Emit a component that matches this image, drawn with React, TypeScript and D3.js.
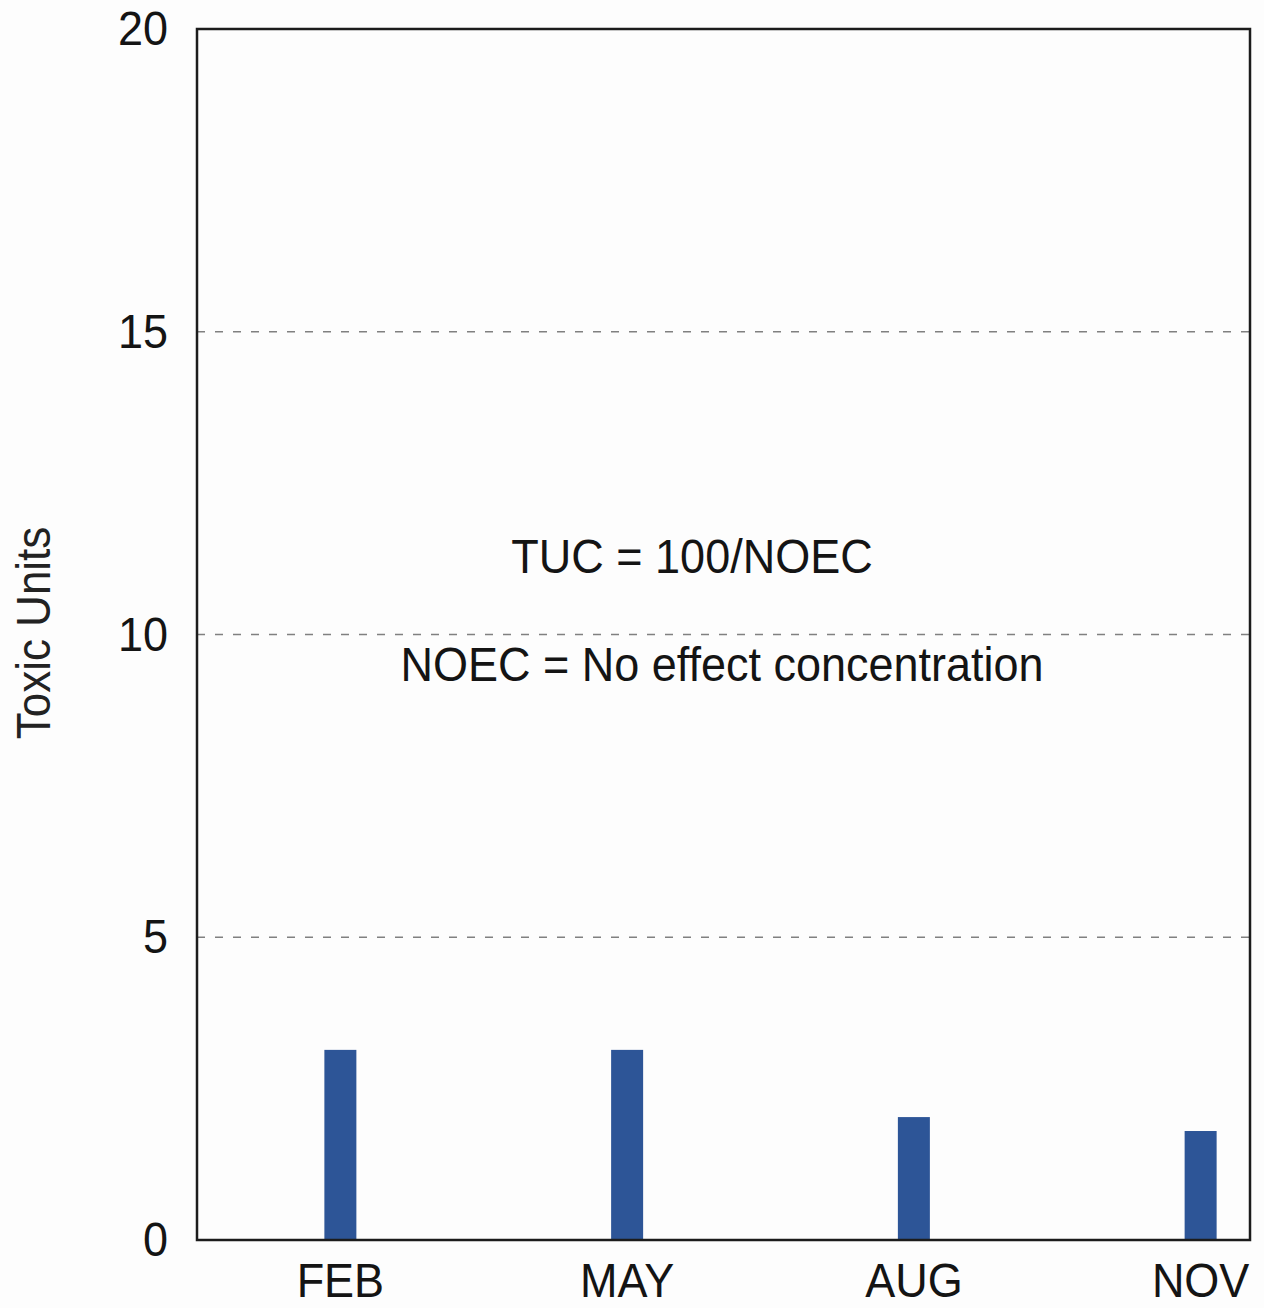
import React from "react";
import * as d3 from "d3";

const months = ["FEB", "MAY", "AUG", "NOV"];
const toxicUnits = [3.14, 3.14, 2.03, 1.8];
const yTicks = [0, 5, 10, 15, 20];
const gridValues = [5, 10, 15];
const notes = ["TUC = 100/NOEC", "NOEC = No effect concentration"];

const W = 1264;
const H = 1308;
const left = 197;
const right = 1250;
const top = 29;
const bottom = 1240;
const font = "'Liberation Sans', Arial, sans-serif";
const sy = 1.08;

export default function App() {
  const y = d3.scaleLinear().domain([0, 20]).range([bottom, top]);
  const x = d3.scalePoint<string>().domain(months).range([left, 1344]).padding(0.5);
  const barW = 32;

  return (
    <svg width={W} height={H} style={{ position: "absolute", left: 0, top: 0, background: "#fdfdfd" }}>
      <rect x={0} y={0} width={W} height={H} fill="#fdfdfd" />
      {gridValues.map((v) => (
        <line key={v} x1={left} x2={right} y1={y(v)} y2={y(v)} stroke="#808080" strokeWidth={1.5} strokeDasharray="8,10" />
      ))}
      {months.map((m, i) => (
        <rect key={m} x={(x(m) as number) - barW / 2} y={y(toxicUnits[i])} width={barW} height={y(0) - y(toxicUnits[i])} fill="#2d5597" />
      ))}
      <rect x={left} y={top} width={right - left} height={bottom - top} fill="none" stroke="#1c1c1c" strokeWidth={2.5} />
      {yTicks.map((t) => (
        <text key={t} transform={`translate(168,${y(t) + 16}) scale(1,${sy})`} textAnchor="end" fontFamily={font} fontSize={45} fill="#141414">
          {t}
        </text>
      ))}
      {months.map((m) => (
        <text key={m} transform={`translate(${x(m) as number},1297) scale(1,${sy})`} textAnchor="middle" fontFamily={font} fontSize={45} fill="#141414">
          {m}
        </text>
      ))}
      <text transform={`translate(50,633) rotate(-90) scale(1,${sy})`} textAnchor="middle" fontFamily={font} fontSize={44} fill="#222">
        Toxic Units
      </text>
      <text transform={`translate(692,573) scale(1,${sy})`} textAnchor="middle" fontFamily={font} fontSize={45} fill="#141414">
        {notes[0]}
      </text>
      <text transform={`translate(722,681) scale(1,${sy})`} textAnchor="middle" fontFamily={font} fontSize={45} fill="#141414">
        {notes[1]}
      </text>
    </svg>
  );
}
